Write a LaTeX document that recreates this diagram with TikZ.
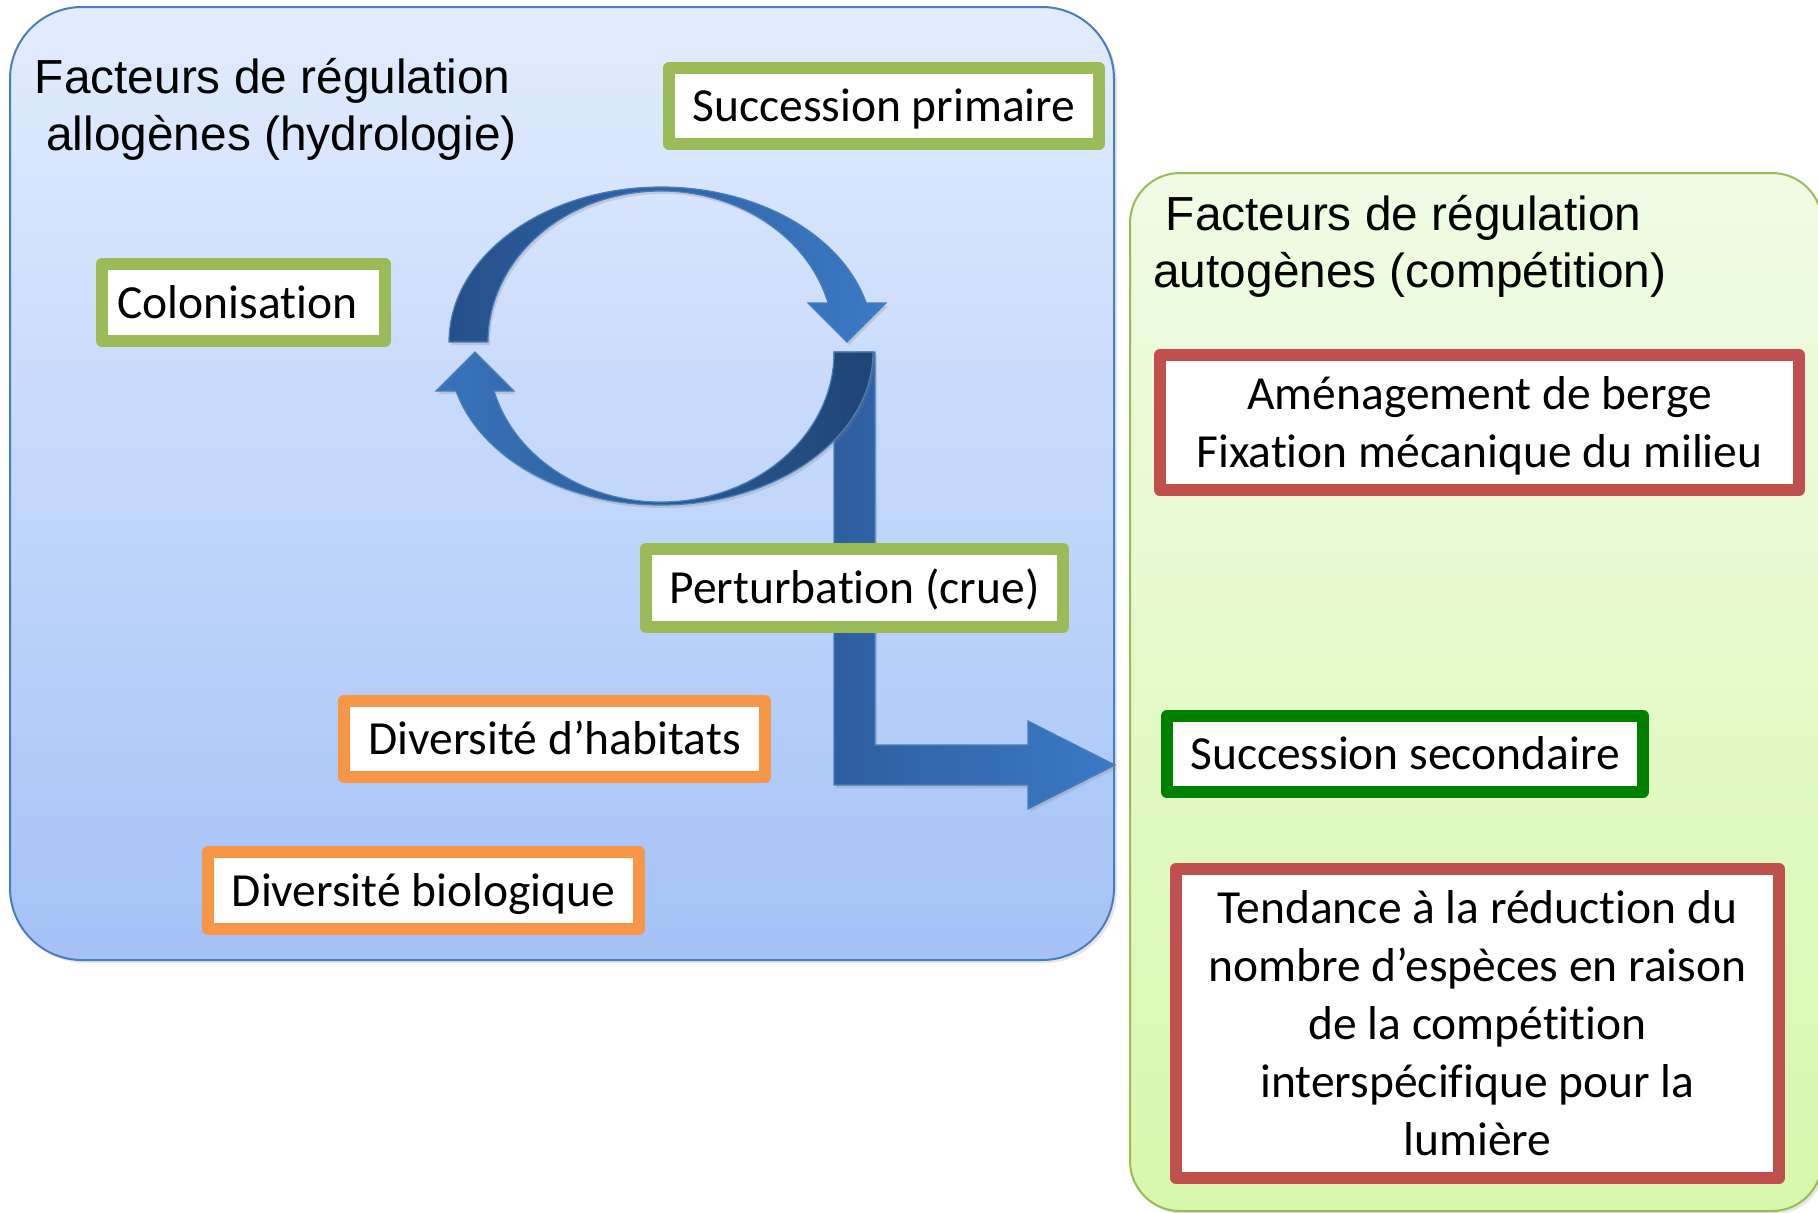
\documentclass[tikz,border=0pt]{standalone}
\usepackage{fontspec}
\setmainfont[RawFeature={-liga,-clig,-calt}]{Carlito}
\newfontfamily\titlefont{Liberation Sans}
\usetikzlibrary{shadows}

\definecolor{allogeneline}{HTML}{4A7EBB}
\definecolor{allogenetop}{HTML}{E2ECFE}
\definecolor{allogenebot}{HTML}{A4C2F7}
\definecolor{autogeneline}{HTML}{9BBB59}
\definecolor{autogenetop}{HTML}{F0FBE4}
\definecolor{autogenebot}{HTML}{D7F8AC}
\definecolor{boxgreen}{HTML}{9BBB59}
\definecolor{boxorange}{HTML}{F79646}
\definecolor{boxred}{HTML}{C0504D}
\definecolor{boxdarkgreen}{HTML}{008000}
\definecolor{ringdark}{HTML}{25508A}
\definecolor{ringlight}{HTML}{3B7AC6}
\definecolor{crueblue}{HTML}{2D5E9F}

\tikzset{
  panel/.style={line width=1pt, rounded corners=#1,
    drop shadow={shadow xshift=1.5pt, shadow yshift=-1.5pt, opacity=0.2}},
  factorbox/.style={draw=#1, line width=6pt, line join=round, fill=white,
    inner sep=0pt, align=center, font=\fontsize{23.75pt}{29pt}\selectfont},
  onelinebox/.style={factorbox=#1, text height=20pt, text depth=4.5pt},
  titletext/.style={anchor=base west, inner sep=0pt, align=left,
    font=\titlefont\fontsize{23.9pt}{28.75pt}\selectfont},
  ringarrow/.style={draw=allogeneline, line width=0.6pt,
    drop shadow={shadow xshift=1pt, shadow yshift=-1.5pt, opacity=0.25}}
}

\begin{document}
\begin{tikzpicture}[x=0.5pt, y=-0.5pt]  % units of pixels, y going down
    \useasboundingbox (0,0) rectangle (1818,1212);

    % the two panels
    \path[panel=36pt, draw=allogeneline, top color=allogenetop, bottom color=allogenebot]
        (10,7) rectangle (1114,960);
    \path[panel=25pt, draw=autogeneline, top color=autogenetop, bottom color=autogenebot]
        (1130,173) rectangle (1822,1211);

    % base anchor sits on the last line
    \node[titletext] (titleallo) at (34.5,150.5)
        {Facteurs de régulation\\\hspace*{5.75pt}allogènes (hydrologie)};
    \node[titletext] (titleauto) at (1153,287.5)
        {\hspace*{6.25pt}Facteurs de régulation\\autogènes (compétition)};

    % disturbance arrow, drawn under the ring
    \coordinate (L) at (834,352);
    \path[ringarrow, left color=crueblue, right color=ringlight]
        (L) -- (875,352) -- (875,745) -- (1028,745) -- (1028,721)
        -- (1115,765) -- (1028,809) -- (1028,785) -- (834,785) -- cycle;

    % lower half of the ring
    \coordinate (Clow) at (661,352);
    \path[ringarrow, left color=ringlight!95!black, right color=ringdark!85!black]
        (Clow) ++(212,0)
        arc[start angle=0, end angle=165.23, x radius=212, y radius=153]
        -- (436,391) -- (475,352) -- (514,391) -- (494,391)
        arc[start angle=164.93, end angle=0, x radius=173, y radius=150]
        -- cycle;

    % upper half of the ring
    \coordinate (Cup) at (661,342);
    \path[ringarrow, left color=ringdark, right color=ringlight]
        (Cup) ++(-212,0)
        arc[start angle=180, end angle=345.43, x radius=212, y radius=155]
        -- (886,303) -- (847,342) -- (808,303) -- (828.1,303)
        arc[start angle=345.03, end angle=180, x radius=173, y radius=151]
        -- cycle;

    % boxes
    \node[onelinebox=boxgreen, minimum width=215pt, minimum height=38pt]
        (primaire) at (884,106) {Succession primaire};
    \node[onelinebox=boxgreen, minimum width=141.5pt, minimum height=38.5pt]
        (colonisation) at (243.5,302.5) {Colonisation\hspace*{6pt}};
    \node[onelinebox=boxgreen, minimum width=208.5pt, minimum height=39pt]
        (perturbation) at (854.5,588) {Perturbation (crue)};
    \node[onelinebox=boxorange, minimum width=210.5pt, minimum height=38pt]
        (habitats) at (554.5,739) {Diversité d’habitats};
    \node[onelinebox=boxorange, minimum width=215.5pt, minimum height=38.5pt]
        (biologique) at (423.5,890.5) {Diversité biologique};
    \node[factorbox=boxred, minimum width=319.5pt, minimum height=67.5pt]
        (amenagement) at (1479.5,422.5)
        {\rule{0pt}{20pt}Aménagement de berge\\Fixation mécanique du milieu};
    \node[onelinebox=boxdarkgreen, minimum width=238pt, minimum height=38pt]
        (secondaire) at (1405,754) {Succession secondaire};
    \node[factorbox=boxred, minimum width=301.5pt, minimum height=154.5pt]
        (tendance) at (1477.5,1023.5)
        {Tendance à la réduction du\\nombre d’espèces en raison\\de la compétition\\
         interspécifique pour la\\lumière};
\end{tikzpicture}
\end{document}
